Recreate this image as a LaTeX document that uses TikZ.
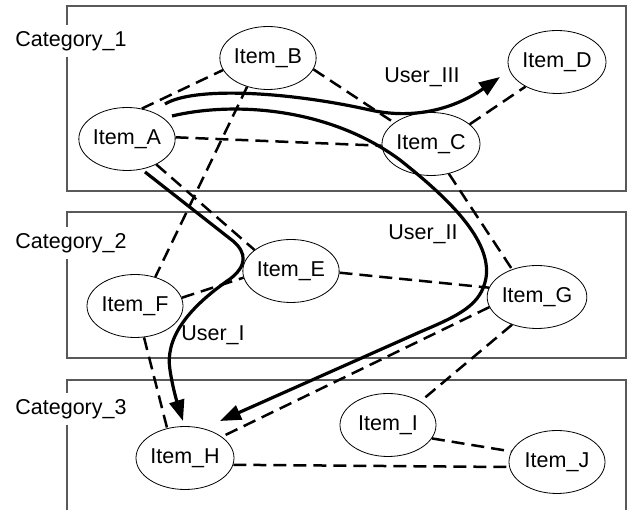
\documentclass[tikz,border=0pt]{standalone}
\usepackage{fontspec}
\setmainfont{Liberation Sans}
\usetikzlibrary{arrows.meta,shapes.geometric}
\begin{document}
\begin{tikzpicture}[x=1pt,y=-1pt,
  every node/.style={font=\fontsize{21.5pt}{26pt}\selectfont},
  item/.style={ellipse,draw,line width=0.8pt,minimum width=96pt,minimum height=63pt,inner sep=0pt},
  catbox/.style={draw=black!65,line width=1.1pt},
  catlabel/.style={fill=white,inner sep=6pt},
  link/.style={line width=2.5pt,dash pattern=on 13pt off 7pt},
  userpath/.style={line width=3.2pt,-{Triangle[length=21pt,width=15pt]}},
  userlabel/.style={inner sep=0pt}]
\useasboundingbox (0,0) rectangle (633,510);
% category boxes
\draw[catbox] (67,6) rectangle (626,191);
\draw[catbox] (67,212) rectangle (626,358);
\draw[catbox] (67,515) |- (626,380) -- (626,515);
\node[catlabel] (cat1) at (71,41) {Category\_1};
\node[catlabel] (cat2) at (71,243) {Category\_2};
\node[catlabel] (cat3) at (71,409) {Category\_3};
% items
\node[item] (A) at (127,139) {Item\_A};
\node[item] (B) at (268,58) {Item\_B};
\node[item] (C) at (431,144) {Item\_C};
\node[item] (D) at (557,62) {Item\_D};
\node[item] (E) at (291,271) {Item\_E};
\node[item] (F) at (135,306) {Item\_F};
\node[item] (G) at (537,297) {Item\_G};
\node[item] (H) at (185,458) {Item\_H};
\node[item] (I) at (388,425) {Item\_I};
\node[item] (J) at (557,462) {Item\_J};
% dashed links
\draw[link] (A.64) -- (B.195);
\draw[link] (A.2) -- (C.182);
\draw[link] (A.-41) -- (E.150);
\draw[link] (B.-14) -- (C.150);
\draw[link] (B.234) -- (F.55);
\draw[link] (C.27) -- (D.218);
\draw[link] (C.301) -- (G.132);
\draw[link] (E.-2) -- (G.169);
\draw[link] (F.10) -- (E.188);
\draw[link] (F.286) -- (H.121);
\draw[link] (G.192) -- (H.30);
\draw[link] (G.228) -- (I.36);
\draw[link] (I.-17) -- (J.167);
\draw[link] (H.-8) -- (J.186);
% user paths
\coordinate (u3s) at (165,104);
\coordinate (u3e) at (500,77);
\draw[userpath] (u3s) .. controls (195,86) and (290,92) .. (370,110) .. controls (420,121) and (460,105) .. (u3e);
\coordinate (u2s) at (172,116);
\coordinate (u2e) at (220,421);
\draw[userpath] (u2s) .. controls (235,101) and (330,108) .. (400,160) .. controls (448,198) and (492,240) .. (486,278) .. controls (481,305) and (460,315) .. (420,332) -- (u2e);
\coordinate (u1s) at (145,172);
\coordinate (u1e) at (183,421);
\draw[userpath] (u1s) -- (233,241) .. controls (247,253) and (247,266) .. (230,279) .. controls (185,310) and (165,340) .. (170,370) .. controls (173,390) and (178,405) .. (u1e);
\node[userlabel] (l3) at (422,77) {User\_III};
\node[userlabel] (l2) at (423,234) {User\_II};
\node[userlabel] (l1) at (213,335) {User\_I};
\end{tikzpicture}
\end{document}
